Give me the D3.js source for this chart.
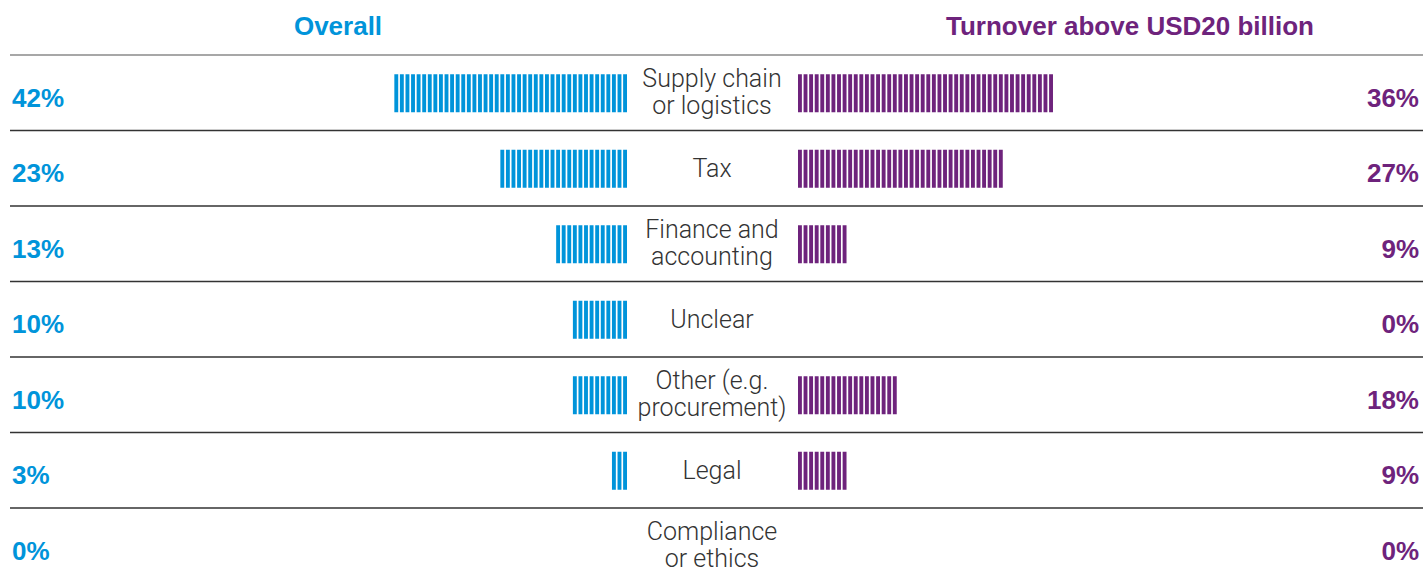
<!DOCTYPE html>
<html lang="en">
<head>
    <meta charset="utf-8">
    <style>
    body {
        margin: 0;
        background: #fff;
    }

    .pct {
        font-family: "Liberation Sans", Arial, sans-serif;
        font-weight: bold;
        font-size: 26px;
    }

    .cat {
        font-family: Roboto, "DejaVu Sans", sans-serif;
        font-weight: 300;
        font-size: 25px;
        fill: #333;
    }
    </style>
    <script src="https://cdn.jsdelivr.net/npm/d3@7"></script>
    <title>Overall vs turnover above USD20 billion</title>
</head>
<body>
<svg width="1423" height="577"></svg>
<script>
    var categories = [
        ["Supply chain", "or logistics"],
        ["Tax"],
        ["Finance and", "accounting"],
        ["Unclear"],
        ["Other (e.g.", "procurement)"],
        ["Legal"],
        ["Compliance", "or ethics"]
    ];
    var overall = [42, 23, 13, 10, 10, 3, 0];
    var bigLabels = [36, 27, 9, 0, 18, 9, 0];
    // right bars as they are drawn in the source (first two run longer than the label says)
    var bigBars = [46, 37, 9, 0, 18, 9, 0];
    var headers = ["Overall", "Turnover above USD20 billion"];

    var blue = "#0094da",
        purple = "#6e237c";

    var svg = d3.select("svg"),
        width = +svg.attr("width");

    var y = d3.scaleBand()
        .domain(d3.range(categories.length))
        .range([55, 55 + 75.5 * categories.length]);

    // one stripe per percentage point
    var xLeft = d3.scaleLinear().domain([0, 50]).range([627, 627 - 50 * 5.58]);
    var xRight = d3.scaleLinear().domain([0, 50]).range([798, 798 + 50 * 5.58]);
    var gap = 1.7,
        barH = 38;

    // header texts
    svg.append("text")
        .attr("class", "pct")
        .attr("x", 338)
        .attr("y", 35)
        .attr("text-anchor", "middle")
        .attr("fill", blue)
        .text(headers[0]);

    svg.append("text")
        .attr("class", "pct")
        .attr("x", 1130)
        .attr("y", 35)
        .attr("text-anchor", "middle")
        .attr("fill", purple)
        .text(headers[1]);

    // rules
    svg.append("line")
        .attr("x1", 10).attr("x2", width)
        .attr("y1", 55).attr("y2", 55)
        .attr("stroke", "#8a8a8a")
        .attr("stroke-width", 1.5);

    svg.selectAll(".sep")
        .data(d3.range(1, categories.length))
        .enter()
        .append("line")
        .attr("class", "sep")
        .attr("x1", 10).attr("x2", width)
        .attr("y1", function(d) { return y(d); })
        .attr("y2", function(d) { return y(d); })
        .attr("stroke", "#333")
        .attr("stroke-width", 1.5);

    var row = svg.selectAll(".row")
        .data(categories)
        .enter().append("g")
        .attr("class", "row")
        .attr("transform", function(d, i) {
            return "translate(0," + (y(i) + y.bandwidth() / 2) + ")";
        });

    // left striped bars
    row.selectAll(".l")
        .data(function(d, i) { return d3.range(overall[i]); })
        .enter()
        .append("rect")
        .attr("class", "l")
        .attr("x", function(k) { return xLeft(k + 1) + gap; })
        .attr("width", function(k) { return xLeft(k) - xLeft(k + 1) - gap; })
        .attr("y", -barH / 2 + 0.5)
        .attr("height", barH)
        .attr("fill", blue);

    // right striped bars
    row.selectAll(".r")
        .data(function(d, i) { return d3.range(bigBars[i]); })
        .enter()
        .append("rect")
        .attr("class", "r")
        .attr("x", function(k) { return xRight(k); })
        .attr("width", function(k) { return xRight(k + 1) - xRight(k) - gap; })
        .attr("y", -barH / 2 + 0.5)
        .attr("height", barH)
        .attr("fill", purple);

    // percentages
    row.append("text")
        .attr("class", "pct")
        .attr("x", 12)
        .attr("y", 14)
        .attr("fill", blue)
        .text(function(d, i) { return overall[i] + "%"; });

    row.append("text")
        .attr("class", "pct")
        .attr("x", 1419)
        .attr("y", 14)
        .attr("text-anchor", "end")
        .attr("fill", purple)
        .text(function(d, i) { return bigLabels[i] + "%"; });

    // category names, one or two lines
    var cat = row.append("text")
        .attr("class", "cat")
        .attr("text-anchor", "middle");

    cat.selectAll("tspan")
        .data(function(d) { return d; })
        .enter()
        .append("tspan")
        .attr("x", 712)
        .attr("y", function(t, j, all) {
            if (all.length == 1) return 9;
            return j == 0 ? -5.5 : 21.5;
        })
        .text(function(t) { return t; });
</script>
</body>
</html>
